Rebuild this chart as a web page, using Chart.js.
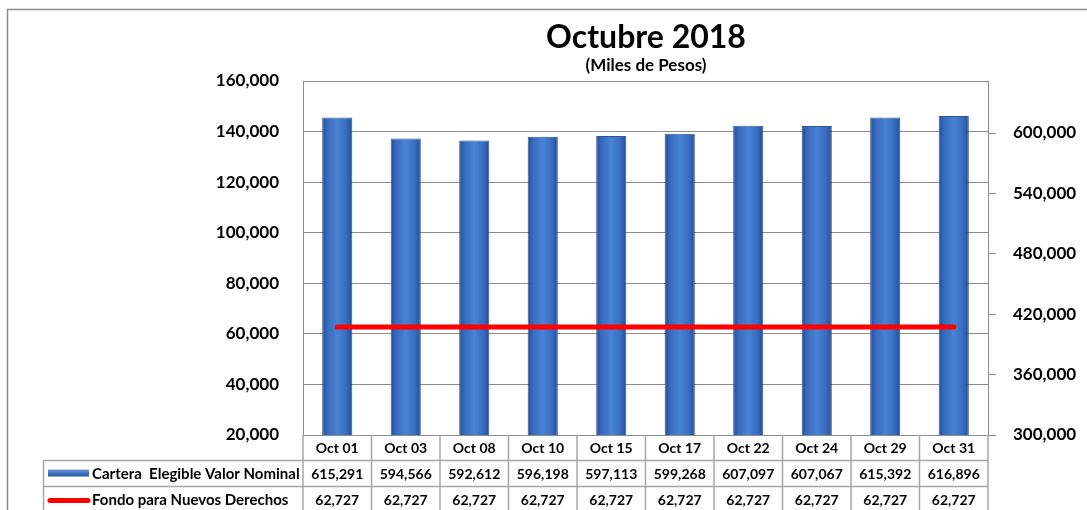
<!DOCTYPE html>
<html>
<head>
<meta charset="utf-8">
<script src="https://cdn.jsdelivr.net/npm/chart.js@4/dist/chart.umd.min.js"></script>
<style>
  html, body { margin:0; padding:0; background:#fff; }
  #wrap { width:1087px; height:510px; position:relative; }
</style>
</head>
<body>
<div id="wrap"><canvas id="myChart" width="1087" height="510"></canvas></div>
<script>
// =============================
// datos
// =============================
const fechas = ["Oct 01","Oct 03","Oct 08","Oct 10","Oct 15","Oct 17","Oct 22","Oct 24","Oct 29","Oct 31"];
const carteraElegible = [615291,594566,592612,596198,597113,599268,607097,607067,615392,616896];
const fondoNuevos = [62727,62727,62727,62727,62727,62727,62727,62727,62727,62727];
const ticksDerecha = [300000,360000,420000,480000,540000,600000];

const nombreCartera = "Cartera  Elegible Valor Nominal";
const nombreFondo = "Fondo para Nuevos Derechos";
const titulo = "Octubre 2018";
const subtitulo = "(Miles de Pesos)";

const FONT = "Lato, 'Open Sans', sans-serif";
const gris = "#8c8c8c";
const fmt = v => Number(v).toLocaleString("en-US");

// degradado de cada barra
function barGradient(ctx){
    const chart = ctx.chart;
    if(!chart.chartArea) return "#3a70c5";
    const el = ctx.element;
    const x = el && el.x ? el.x : chart.scales.x.getPixelForValue(ctx.dataIndex);
    const w = el && el.width ? el.width : 30;
    const g = chart.ctx.createLinearGradient(x - w/2, 0, x + w/2, 0);
    g.addColorStop(0, "#234f97");
    g.addColorStop(0.18, "#376bbd");
    g.addColorStop(0.5, "#4a82d4");
    g.addColorStop(0.82, "#376bbd");
    g.addColorStop(1, "#214c93");
    return g;
}

// =============================
// titulo, borde y tabla de datos
// =============================
const tablaPlugin = {
    id: "tabla",
    afterDraw(chart){
        const c = chart.ctx;
        const xs = chart.scales.x;
        const area = chart.chartArea;
        const n = fechas.length;
        const colW = (area.right - area.left) / n;
        const rowTop = area.bottom;
        const rowH = [25.5, 26, 26];
        const legendLeft = 43.5;

        c.save();

        // borde exterior
        c.strokeStyle = "#8a8a8a";
        c.lineWidth = 1.5;
        c.beginPath();
        c.moveTo(7.5, 520);
        c.lineTo(7.5, 9.5);
        c.lineTo(1095, 9.5);
        c.stroke();

        // titulo
        c.fillStyle = "#000";
        c.textAlign = "center";
        c.textBaseline = "middle";
        c.font = "bold 32px " + FONT;
        c.fillText(titulo, 646, 38);
        c.font = "bold 17px " + FONT;
        c.fillText(subtitulo, 646, 66);

        // lineas de la tabla
        c.strokeStyle = "#a6a6a6";
        c.lineWidth = 1.5;
        const y1 = rowTop + rowH[0];
        const y2 = y1 + rowH[1];
        const y3 = y2 + rowH[2];
        c.beginPath();
        c.moveTo(area.left, y1); c.lineTo(area.right, y1);
        c.moveTo(legendLeft, y1); c.lineTo(area.left, y1);
        c.moveTo(legendLeft, y2); c.lineTo(area.right, y2);
        c.moveTo(legendLeft, y1); c.lineTo(legendLeft, y3);
        for(let i = 0; i <= n; i++){
            const x = area.left + i * colW;
            c.moveTo(x, rowTop); c.lineTo(x, y3);
        }
        c.stroke();

        // textos
        c.fillStyle = "#000";
        c.font = "bold 14px " + FONT;
        c.textAlign = "center";
        for(let i = 0; i < n; i++){
            const cx = xs.getPixelForValue(i);
            c.fillText(fechas[i], cx, rowTop + rowH[0]/2 + 1);
            c.fillText(fmt(carteraElegible[i]), cx, y1 + rowH[1]/2 + 1);
            c.fillText(fmt(fondoNuevos[i]), cx, y2 + rowH[2]/2 + 1);
        }

        // leyenda
        const sx = 48, sw = 41;
        const gy = y1 + rowH[1]/2;
        const lg = c.createLinearGradient(0, gy - 4, 0, gy + 4);
        lg.addColorStop(0, "#6f9de0");
        lg.addColorStop(0.5, "#3c6fbe");
        lg.addColorStop(1, "#234f97");
        c.fillStyle = lg;
        c.fillRect(sx, gy - 4, sw, 7);
        c.strokeStyle = "#ff0000";
        c.lineWidth = 5;
        c.lineCap = "round";
        const ry = y2 + rowH[2]/2 + 1;
        c.beginPath();
        c.moveTo(sx + 2, ry); c.lineTo(sx + sw - 1, ry);
        c.stroke();

        c.fillStyle = "#000";
        c.textAlign = "left";
        c.font = "bold 15px " + FONT;
        c.fillText(nombreCartera, 92, y1 + rowH[1]/2 + 1);
        c.fillText(nombreFondo, 92, y2 + rowH[2]/2 + 1);

        c.restore();
    }
};

// =============================
// grafica
// =============================
new Chart(document.getElementById("myChart"), {
    data: {
        labels: fechas,
        datasets: [
            {
                type: "line",
                label: nombreFondo,
                data: fondoNuevos,
                yAxisID: "y",
                borderColor: "#ff0000",
                borderWidth: 5,
                borderCapStyle: "round",
                pointRadius: 0,
                order: 0
            },
            {
                type: "bar",
                label: nombreCartera,
                data: carteraElegible,
                yAxisID: "y1",
                backgroundColor: barGradient,
                borderColor: "#2a569f",
                borderWidth: 1,
                categoryPercentage: 1,
                barPercentage: 0.44,
                order: 1
            }
        ]
    },
    options: {
        responsive: false,
        animation: false,
        devicePixelRatio: 1,
        layout: { padding: { top: 81, bottom: 75, left: 0, right: 0 } },
        plugins: {
            legend: { display: false },
            tooltip: { enabled: false }
        },
        scales: {
            x: {
                display: false,
                offset: true
            },
            y: {
                position: "left",
                min: 20000,
                max: 160000,
                ticks: {
                    stepSize: 20000,
                    padding: 24,
                    color: "#000",
                    font: { family: FONT, size: 17, weight: "bold" },
                    callback: v => fmt(v)
                },
                grid: { color: gris, lineWidth: 1, drawTicks: false },
                border: { color: gris, width: 1 },
                afterFit(scale){ scale.width = 303; }
            },
            y1: {
                position: "right",
                min: 300000,
                max: 651656,
                ticks: {
                    padding: 17,
                    autoSkip: false,
                    color: "#000",
                    font: { family: FONT, size: 17, weight: "bold" },
                    callback: v => fmt(v)
                },
                afterBuildTicks(scale){
                    scale.ticks = ticksDerecha.map(v => ({ value: v }));
                },
                grid: { drawOnChartArea: false, drawTicks: true, tickLength: 8, color: gris },
                border: { color: gris, width: 1 },
                afterFit(scale){ scale.width = 99; }
            }
        }
    },
    plugins: [tablaPlugin]
});
</script>
</body>
</html>
